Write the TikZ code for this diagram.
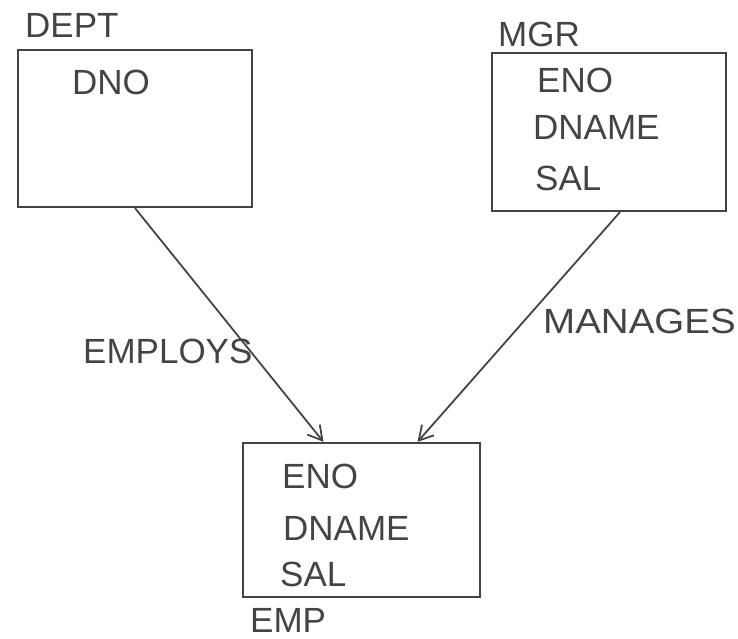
\documentclass[tikz,border=0pt]{standalone}
\usepackage{fontspec}
\setmainfont{Liberation Sans}
\usetikzlibrary{arrows.meta,calc}
\definecolor{pencil}{HTML}{444444}
\tikzset{
  ent/.style={draw=pencil, line width=2.2pt, rectangle, inner sep=0pt},
  lbl/.style={text=pencil, font=\fontsize{35}{37}\selectfont, inner sep=0pt, anchor=base west},
  rel/.style={draw=pencil, line width=1.8pt, -{Straight Barb[length=14pt,width=16pt,line width=1.8pt]}}
}
\begin{document}
\begin{tikzpicture}[x=1pt,y=-1pt]
\useasboundingbox (0,0) rectangle (738,639);
% boxes
\node[ent, minimum width=234pt, minimum height=157pt] (dept) at (135,128.5) {};
\node[ent, minimum width=234pt, minimum height=158pt] (mgr) at (609,132) {};
\node[ent, minimum width=237pt, minimum height=154pt] (emp) at (361.5,520) {};
% titles
\node[lbl] (tdept) at (25,38) {DEPT};
\node[lbl] (tmgr) at (498,47) {MGR};
\node[lbl] (temp) at (250,632) {EMP};
% attributes
\node[lbl] (dno) at (72,95) {DNO};
\node[lbl] (meno) at (537,93) {ENO};
\node[lbl] (mdname) at (533,140) {DNAME};
\node[lbl] (msal) at (535,190) {SAL};
\node[lbl] (eeno) at (282,488) {ENO};
\node[lbl] (edname) at (283,540) {DNAME};
\node[lbl] (esal) at (280,586) {SAL};
% connectors
\coordinate (e1) at ($(emp.north)+(-38,0)$);
\coordinate (e2) at ($(emp.north)+(56,0)$);
\coordinate (m1) at ($(mgr.south)+(11,0)$);
\draw[rel] (dept.south) -- (e1);
\draw[rel] (m1) -- (e2);
% relationship labels
\node[lbl] (employs) at (83,363) {EMPLOYS};
\node[lbl, xscale=1.1] (manages) at (543,333) {MANAGES};
\end{tikzpicture}
\end{document}
